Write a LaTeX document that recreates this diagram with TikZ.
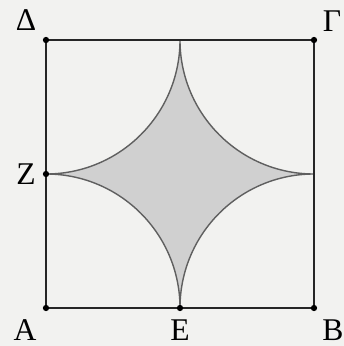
\documentclass[tikz,border=0pt]{standalone}
\usepackage{fontspec}
\setmainfont{Liberation Serif}
\usepackage{tikz}
\usetikzlibrary{positioning}
\definecolor{paper}{RGB}{242,242,240}
\definecolor{shade}{RGB}{208,208,208}
\definecolor{rim}{RGB}{95,95,95}

\begin{document}
\begin{tikzpicture}[
  x=0.02cm, y=0.02cm,
  side/.style={line width=1.1pt, black!85},
  curve/.style={line width=0.8pt, rim},
  tag/.style={font=\fontsize{18}{20}\selectfont, inner sep=0pt},
  dot/.style={circle, fill=black, inner sep=0pt, minimum size=3.6pt}]

% ---- page and frame ----------------------------------------------------
\fill[paper] (0,0) rectangle (344,346);
\useasboundingbox (0,0) rectangle (344,346);

% ---- corners and midpoints of the square --------------------------------
\coordinate (A) at ( 46, 38);
\coordinate (B) at (314, 38);
\coordinate (G) at (314,306);
\coordinate (D) at ( 46,306);
\coordinate (E) at (180, 38);
\coordinate (Z) at ( 46,172);

% ---- the shaded region between the four quarter circles -----------------
\filldraw[curve, fill=shade]
  (Z) arc[start angle=270, end angle=360, radius=134]
      arc[start angle=180, end angle=270, radius=134]
      arc[start angle=90,  end angle=180, radius=134]
      arc[start angle=0,   end angle=90,  radius=134] -- cycle;

% ---- the square ---------------------------------------------------------
\draw[side] (A)--(B)--(G)--(D)--cycle;

\node[dot] (nA) at (A) {};
\node[dot] (nB) at (B) {};
\node[dot] (nG) at (G) {};
\node[dot] (nD) at (D) {};
\node[dot] (nE) at (E) {};
\node[dot] (nZ) at (Z) {};

\node[tag] (lA) at ( 25, 16) {Α};
\node[tag] (lE) at (180, 16) {Ε};
\node[tag] (lB) at (333, 16) {Β};
\node[tag] (lZ) at ( 26,172) {Ζ};
\node[tag] (lD) at ( 26,326) {Δ};
\node[tag] (lG) at (332,325) {Γ};
\end{tikzpicture}
\end{document}
